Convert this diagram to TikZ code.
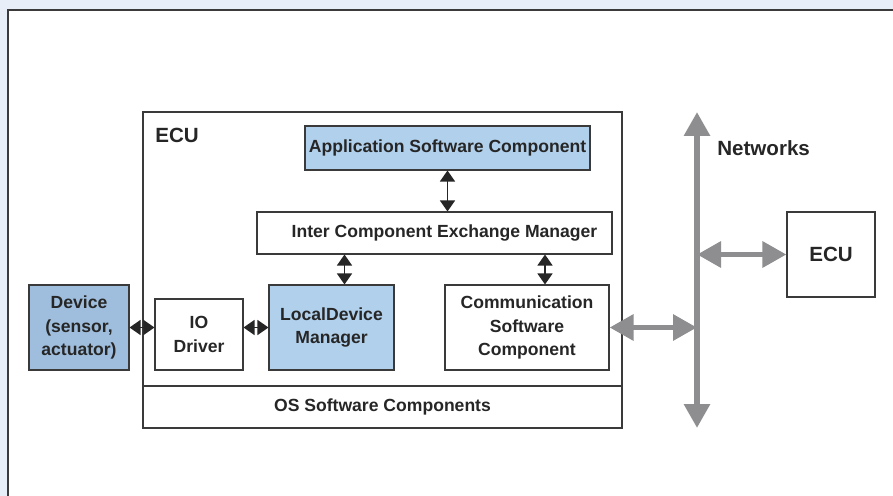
\documentclass[tikz,border=0pt]{standalone}
\usepackage{fontspec}
\setmainfont{Liberation Sans}
\usetikzlibrary{arrows.meta,positioning,calc}

\definecolor{bgblue}{HTML}{E7EEF8}
\definecolor{appblue}{HTML}{B1D0EC}
\definecolor{devblue}{HTML}{9FBEDD}
\definecolor{netgray}{HTML}{8E8E90}
\definecolor{edgegray}{HTML}{3A3A3A}

\tikzset{
  block/.style={draw=edgegray, line width=0.6pt, fill=white, align=center,
    inner sep=0pt, text=black!85, font=\bfseries\fontsize{10}{13.3}\selectfont},
  appblock/.style={block, fill=appblue},
  devblock/.style={block, fill=devblue},
  title/.style={text=black!85, inner sep=0pt, font=\bfseries\fontsize{11.7}{14}\selectfont},
  sig/.style={{Triangle[length=2.2mm,width=3mm]}-{Triangle[length=2.2mm,width=3mm]},
    line width=0.7pt, black!85},
  net/.style={{Triangle[length=4.8mm,width=5mm]}-{Triangle[length=4.8mm,width=5mm]},
    line width=3.4pt, netgray},
}

\begin{document}
\begin{tikzpicture}[x=0.2mm,y=-0.2mm]
  \clip (0,0) rectangle (893,496);
  \fill[bgblue] (0,0) rectangle (893,496);
  \draw[edgegray, line width=0.9pt, fill=white] (8,10) rectangle (910,510);

  % ECU with its software layers
  \node[block, minimum width=95.8mm, minimum height=54.8mm] (ecu) at (382.5,249) {};
  \node[title, anchor=west] (ecutitle) at (155,135) {ECU};
  \node[block, minimum width=95.8mm, minimum height=8.4mm] (os) at (382.5,407) {OS Software Components};
  \node[appblock, minimum width=57mm, minimum height=8.8mm] (app) at (447.5,148) {Application Software Component};
  \node[block, minimum width=71mm, minimum height=8.4mm] (icem) at (434.5,233) {\hspace*{4mm}Inter Component Exchange Manager};
  \node[appblock, minimum width=25mm, minimum height=17mm] (ldm) at (331.5,327.5) {LocalDevice\\Manager};
  \node[block, minimum width=32.8mm, minimum height=17mm] (comm) at (527,327.5) {Communication\\Software\\Component};
  \node[block, minimum width=17.6mm, minimum height=14.2mm] (io) at (199,334.5) {IO\\Driver};
  \node[devblock, minimum width=20mm, minimum height=17mm] (dev) at (79,327.5) {Device\\(sensor,\\actuator)};

  % remote ECU
  \node[block, minimum width=17.6mm, minimum height=17mm, font=\bfseries\fontsize{11.7}{14}\selectfont] (ecub) at (831,254.5) {ECU};

  % local signals
  \draw[sig] (dev.east) -- (dev.east -| io.west);
  \draw[sig] (io.east |- dev.east) -- (dev.east -| ldm.west);
  \draw[sig] (app.south) -- (app.south |- icem.north);
  \draw[sig] ($(icem.south -| ldm.north)+(13,0)$) -- ($(ldm.north)+(13,0)$);
  \draw[sig] ($(icem.south -| comm.north)+(18,0)$) -- ($(comm.north)+(18,0)$);

  % network bus
  \coordinate (bustop) at (697,112);
  \coordinate (busbot) at (697,428);
  \draw[net] (busbot) -- (bustop);
  \node[title, anchor=west] (netlabel) at (717,148) {Networks};
  \draw[net] (comm.east) -- (comm.east -| bustop);
  \draw[net] (ecub.west -| bustop) -- (ecub.west);
\end{tikzpicture}
\end{document}
